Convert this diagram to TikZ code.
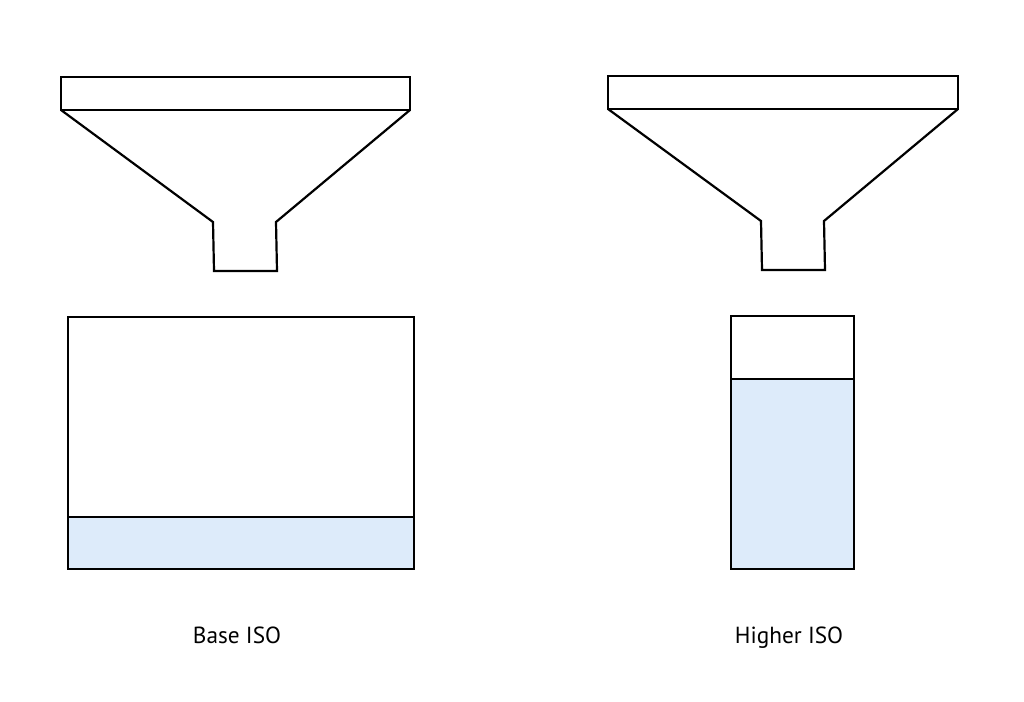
\documentclass[tikz,border=0pt]{standalone}
\usepackage{fontspec}
\setmainfont{PT Sans}
\definecolor{water}{HTML}{DDEBFA}
\begin{document}
\begin{tikzpicture}[x=1pt,y=-1pt,
  outline/.style={draw=black,line width=2.2pt,line join=miter},
  lbl/.style={font=\fontsize{23.3}{26}\selectfont,anchor=base,inner sep=0pt}]
\path[use as bounding box,fill=white] (0,0) rectangle (1024,701);
% left funnel
\draw[outline] (61,77) rectangle (410,110);
\draw[outline] (61,110) -- (213,222) -- (214,271) -- (277,271) -- (276,222) -- (410,110);
% right funnel
\draw[outline] (608,76) rectangle (958,109);
\draw[outline] (608,109) -- (761,221) -- (762,270) -- (825,270) -- (824,221) -- (958,109);
% left container
\fill[water] (68,517) rectangle (414,569);
\draw[outline] (68,317) rectangle (414,569);
\draw[outline] (68,517) -- (414,517);
% right container
\fill[water] (731,379) rectangle (854,569);
\draw[outline] (731,316) rectangle (854,569);
\draw[outline] (731,379) -- (854,379);
\node[lbl] (base) at (237,643) {Base ISO};
\node[lbl] (higher) at (789,643) {Higher ISO};
\end{tikzpicture}
\end{document}
